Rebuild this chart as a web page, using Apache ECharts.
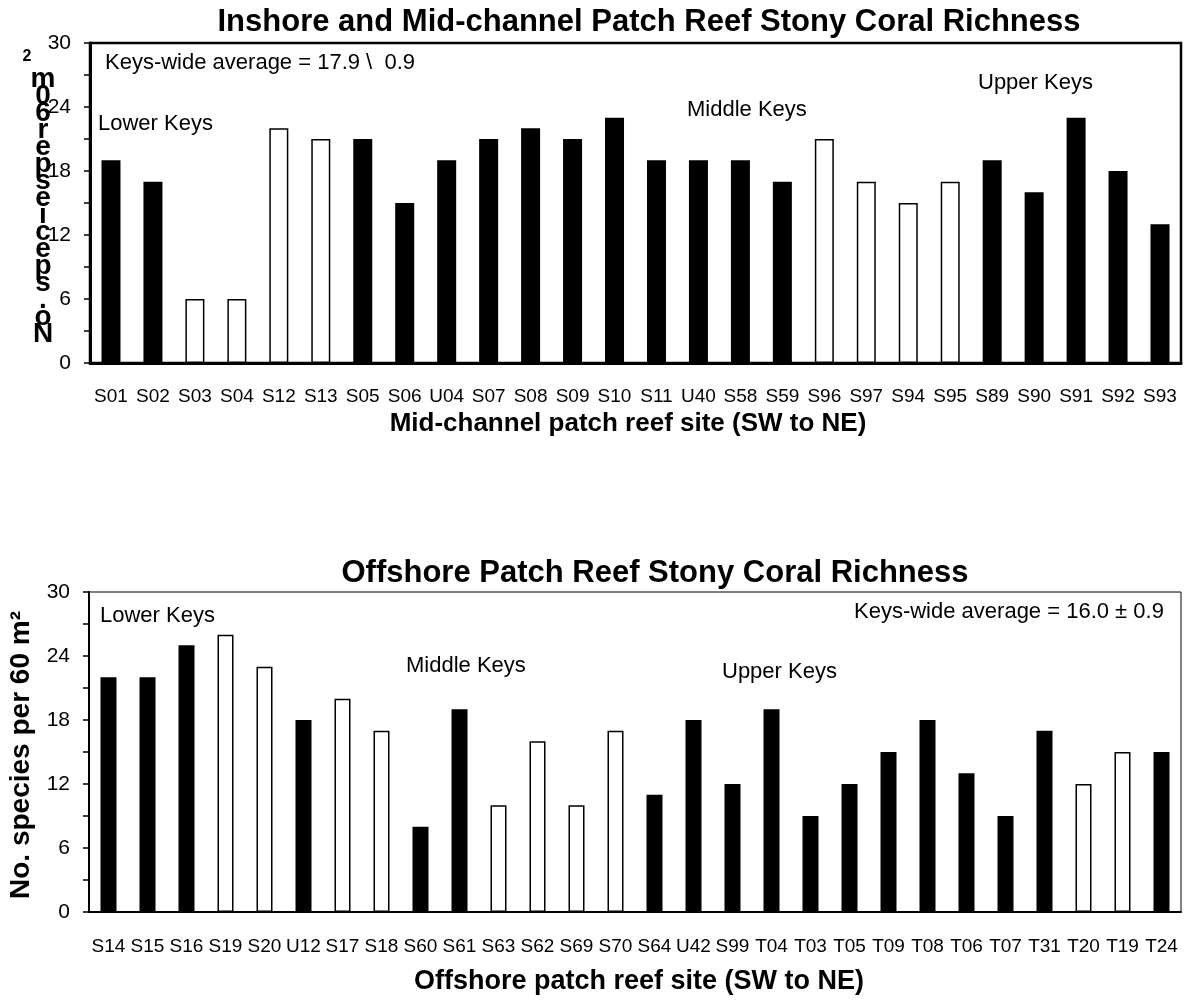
<!DOCTYPE html>
<html><head><meta charset="utf-8">
<script src="https://cdn.jsdelivr.net/npm/echarts@6/dist/echarts.min.js"></script>
<style>html,body{margin:0;padding:0;background:#fff}#c{width:1186px;height:1002px}</style>
</head><body><div id="c"></div>
<script>
// ---- Data ----
const topSites = ['S01','S02','S03','S04','S12','S13','S05','S06','U04','S07','S08','S09','S10','S11','U40','S58','S59','S96','S97','S94','S95','S89','S90','S91','S92','S93'];
const topValues = [19,17,6,6,22,21,21,15,19,21,22,21,23,19,19,19,17,21,17,15,17,19,16,23,18,13];
const topOpen = ['S03','S04','S12','S13','S96','S97','S94','S95'];

const botSites = ['S14','S15','S16','S19','S20','U12','S17','S18','S60','S61','S63','S62','S69','S70','S64','U42','S99','T04','T03','T05','T09','T08','T06','T07','T31','T20','T19','T24'];
const botValues = [22,22,25,26,23,18,20,17,8,19,10,16,10,17,11,18,12,19,9,12,15,18,13,9,17,12,15,15];
const botOpen = ['S19','S20','S17','S18','S63','S62','S69','S70','T20','T19'];

const yTicks = [0,6,12,18,24,30];

const topTitle = 'Inshore and Mid-channel Patch Reef Stony Coral Richness';
const botTitle = 'Offshore Patch Reef Stony Coral Richness';
const topXName = 'Mid-channel patch reef site (SW to NE)';
const botXName = 'Offshore patch reef site (SW to NE)';
const yName = 'No. species per 60 m\u00B2';
const topAvg = 'Keys-wide average = 17.9 \\  0.9';
const botAvg = 'Keys-wide average = 16.0 \u00B1 0.9';

// ---- Chart ----
const FONT = '"Liberation Sans", Arial, sans-serif';
const chart = echarts.init(document.getElementById('c'), null, {renderer:'canvas'});

function barData(sites, values, open){
  return values.map((v,i)=>{
    const isOpen = open.includes(sites[i]);
    return {value:v, itemStyle:{color:isOpen?'#fff':'#000', borderColor:'#000', borderWidth:isOpen?1.5:0}};
  });
}
function yAxis(gi, lw){
  return {type:'value', gridIndex:gi, min:0, max:30, interval:3,
    axisLine:{show:true, lineStyle:{color:'#000', width:lw}},
    axisTick:{show:true, inside:false, length:6, lineStyle:{color:'#000', width:1.5}},
    splitLine:{show:false},
    axisLabel:{color:'#000', fontSize:21, fontFamily:FONT, margin:19,
      formatter:v=> yTicks.includes(v) ? String(v) : ''}};
}
function xAxis(gi, cats, lw, margin){
  return {type:'category', gridIndex:gi, data:cats,
    axisLine:{show:true, lineStyle:{color:'#000', width:lw}},
    axisTick:{show:false},
    axisLabel:{color:'#000', fontSize:19, fontFamily:FONT, interval:0, margin:margin}};
}

// garbled vertical label chars (as in reference)
const garbled = yName.replace(/\u00B2/,'').split('').filter(c=>c!==' ').reverse();

const ann = '22px '+FONT;
const option = {
  animation:false,
  backgroundColor:'#fff',
  title:[
    {text:topTitle, left:644, top:2, textAlign:'center', textStyle:{fontSize:31, fontWeight:'bold', color:'#000', fontFamily:FONT}},
    {text:botTitle, left:650, top:553, textAlign:'center', textStyle:{fontSize:31, fontWeight:'bold', color:'#000', fontFamily:FONT}}
  ],
  grid:[
    {left:90, width:1091, top:43, height:320, show:true, borderColor:'#000', borderWidth:2.5, backgroundColor:'transparent'},
    {left:89, width:1092, top:592, height:320, show:true, borderColor:'#000', borderWidth:1, backgroundColor:'transparent'}
  ],
  xAxis:[xAxis(0, topSites, 3, 24), xAxis(1, botSites, 2, 25)],
  yAxis:[yAxis(0,3), yAxis(1,2)],
  series:[
    {type:'bar', xAxisIndex:0, yAxisIndex:0, barWidth:19, data:barData(topSites, topValues, topOpen)},
    {type:'bar', xAxisIndex:1, yAxisIndex:1, barWidth:16, data:barData(botSites, botValues, botOpen)}
  ],
  graphic:[
    {type:'text', left:105, top:52, style:{text:topAvg, font:ann, fill:'#000'}},
    {type:'text', left:98, top:113, style:{text:'Lower Keys', font:ann, fill:'#000'}},
    {type:'text', left:687, top:99, style:{text:'Middle Keys', font:ann, fill:'#000'}},
    {type:'text', left:978, top:72, style:{text:'Upper Keys', font:ann, fill:'#000'}},
    {type:'text', x:628, y:424, style:{text:topXName, font:'bold 26px '+FONT, fill:'#000', textAlign:'center', textVerticalAlign:'middle'}},

    {type:'text', left:100, top:605, style:{text:'Lower Keys', font:ann, fill:'#000'}},
    {type:'text', left:406, top:655, style:{text:'Middle Keys', font:ann, fill:'#000'}},
    {type:'text', left:722, top:661, style:{text:'Upper Keys', font:ann, fill:'#000'}},
    {type:'text', left:854, top:601, style:{text:botAvg, font:ann, fill:'#000'}},
    {type:'text', x:639, y:982, style:{text:botXName, font:'bold 27px '+FONT, fill:'#000', textAlign:'center', textVerticalAlign:'middle'}},
    {type:'text', x:21, y:755, rotation:Math.PI/2, style:{text:yName, font:'bold 28px '+FONT, fill:'#000', textAlign:'center', textVerticalAlign:'middle'}},

    {type:'text', x:27, y:57, style:{text:'2', font:'bold 16px '+FONT, fill:'#000', textAlign:'center', textVerticalAlign:'middle'}},
    {type:'text', x:43, y:71, style:{text:garbled.join('\n'), font:'bold 28px '+FONT, lineHeight:17, fill:'#000', textAlign:'center', textVerticalAlign:'top'}}
  ]
};
chart.setOption(option);
</script>
</body></html>
